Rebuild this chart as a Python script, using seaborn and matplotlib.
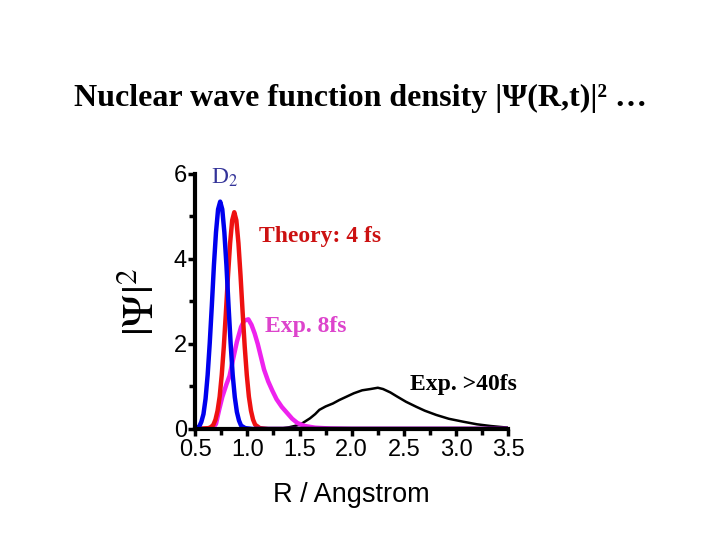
import numpy as np
import pandas as pd
import matplotlib
matplotlib.use("Agg")
import matplotlib.pyplot as plt
import seaborn as sns
from matplotlib.ticker import MultipleLocator

# values (R in Angstrom, |Psi|^2)
d2_r = [0.50, 0.54, 0.56, 0.58, 0.60, 0.62, 0.64, 0.66, 0.68, 0.70, 0.72, 0.74, 0.76,
        0.78, 0.80, 0.82, 0.84, 0.86, 0.88, 0.90, 0.92, 0.94, 0.98, 1.05, 3.5]
d2_y = [0.01, 0.06, 0.17, 0.35, 0.71, 1.27, 2.02, 2.90, 3.85, 4.63, 5.17, 5.35, 5.17,
        4.63, 3.85, 2.90, 2.02, 1.27, 0.75, 0.40, 0.20, 0.08, 0.02, 0.0, 0.0]

theory_r = [0.5, 0.63, 0.655, 0.675, 0.695, 0.715, 0.735, 0.755, 0.775, 0.795, 0.815,
            0.835, 0.855, 0.875, 0.895, 0.915, 0.935, 0.955, 0.975, 0.995, 1.015, 1.035,
            1.055, 1.075, 1.12, 1.2, 3.5]
theory_y = [0.0, 0.02, 0.05, 0.10, 0.22, 0.43, 0.76, 1.27, 1.94, 2.75, 3.61,
            4.37, 4.91, 5.1, 4.91, 4.37, 3.61, 2.75, 1.94, 1.27, 0.76, 0.43,
            0.22, 0.10, 0.02, 0.0, 0.0]

exp8_r = [0.5, 0.66, 0.70, 0.73, 0.76, 0.80, 0.83, 0.86, 0.90, 0.94, 0.97, 1.01, 1.04,
          1.07, 1.10, 1.13, 1.16, 1.20, 1.24, 1.28, 1.33, 1.38, 1.43, 1.48, 1.55, 1.65,
          1.8, 2.0, 3.5]
exp8_y = [0.0, 0.0, 0.12, 0.45, 0.75, 1.05, 1.25, 1.6, 2.05, 2.4, 2.55, 2.58, 2.45,
          2.25, 2.0, 1.7, 1.4, 1.12, 0.9, 0.7, 0.52, 0.38, 0.24, 0.14, 0.07, 0.03,
          0.01, 0.0, 0.0]

exp40_r = [1.3, 1.4, 1.47, 1.53, 1.6, 1.65, 1.69, 1.75, 1.82, 1.88, 1.95, 2.02, 2.1,
           2.18, 2.25, 2.3, 2.37, 2.43, 2.52, 2.62, 2.7, 2.81, 2.93, 3.07, 3.2, 3.33, 3.5]
exp40_y = [0.0, 0.04, 0.08, 0.14, 0.25, 0.35, 0.45, 0.53, 0.6, 0.68, 0.76, 0.84, 0.91,
           0.94, 0.97, 0.94, 0.86, 0.77, 0.64, 0.52, 0.43, 0.33, 0.24, 0.17, 0.11, 0.07, 0.03]

sns.set_style("ticks")
plt.rcParams['font.family'] = ['Liberation Sans', 'DejaVu Sans']
for k in ['text.color', 'axes.labelcolor', 'xtick.color', 'ytick.color', 'axes.edgecolor']:
    plt.rcParams[k] = 'black'
plt.rcParams['mathtext.fontset'] = 'stix'

fig = plt.figure(figsize=(7.2, 5.4), dpi=100)
ax = fig.add_axes([0.271, 0.2056, 0.435, 0.4722])

sns.lineplot(x=exp40_r, y=exp40_y, color='black', linewidth=1.8, ax=ax)
sns.lineplot(x=exp8_r, y=exp8_y, color='#ee22ee', linewidth=3.2, ax=ax)
sns.lineplot(x=theory_r, y=theory_y, color='#ee1111', linewidth=3.2, ax=ax)
sns.lineplot(x=d2_r, y=d2_y, color='#0000ee', linewidth=3.2, ax=ax)

ax.set_xlim(0.5, 3.5)
ax.set_ylim(0, 6)
ax.xaxis.set_major_locator(MultipleLocator(0.5))
ax.xaxis.set_minor_locator(MultipleLocator(0.25))
ax.yaxis.set_major_locator(MultipleLocator(2))
ax.yaxis.set_minor_locator(MultipleLocator(1))
ax.set_xticklabels(['%.1f' % v for v in ax.get_xticks()])
sns.despine(ax=ax)
for s in ['left', 'bottom']:
    ax.spines[s].set_linewidth(3)
ax.tick_params(which='both', direction='out', width=2.5, length=5, labelsize=17, pad=1)
ax.tick_params(which='minor', length=4)
ax.tick_params(axis='x', pad=2)

ax.set_xlabel('R / Angstrom', fontsize=19.5, labelpad=15)
ax.set_ylabel(r'$|\Psi|^2$', fontsize=32, labelpad=8)

serif = ['Liberation Serif', 'DejaVu Serif']
ax.text(0.654, 5.9, 'D$_2$', color='#333399', fontsize=17, family=serif, va='center')
ax.text(1.115, 4.52, 'Theory: 4 fs', color='#cc1111', fontsize=17, family=serif,
        weight='bold', va='center')
ax.text(1.17, 2.42, 'Exp. 8fs', color='#dd44cc', fontsize=17, family=serif,
        weight='bold', va='center')
ax.text(2.56, 1.04, 'Exp. >40fs', color='black', fontsize=17, family=serif,
        weight='bold', va='center')

fig.text(0.5, 0.818, 'Nuclear wave function density |Ψ(R,t)|² …', ha='center', va='center',
         fontsize=23, family=serif, weight='bold')

fig.savefig('out.png', dpi=100)
